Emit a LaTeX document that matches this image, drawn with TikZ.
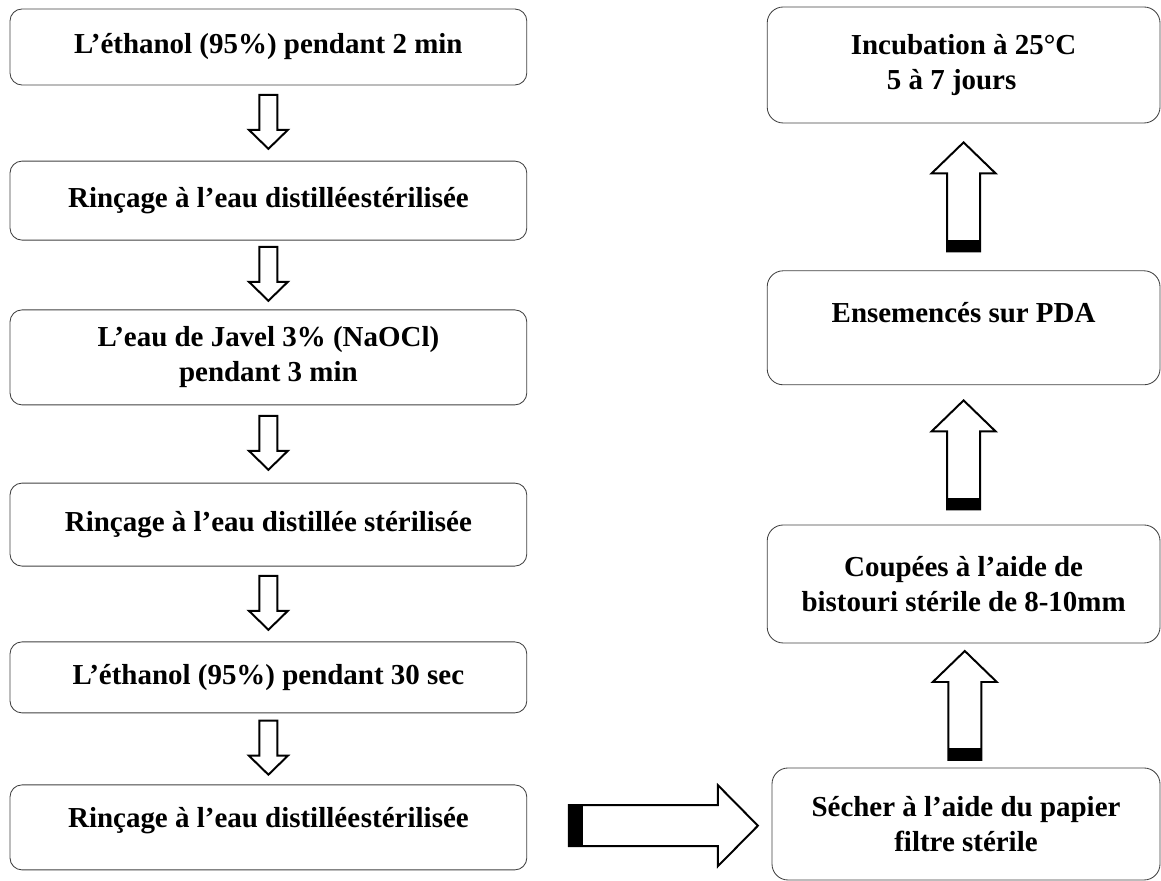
\documentclass[tikz,border=0pt]{standalone}
\usepackage{fontspec}
\setmainfont{Liberation Serif}
\usetikzlibrary{calc}

\tikzset{
  etape/.style={draw=black!75, line width=0.6pt, rounded corners=0.3cm, align=center,
    font=\fontsize{20.6}{25}\selectfont\bfseries},
  gauche/.style={etape, minimum width=12.92cm},
  droite/.style={etape, minimum width=9.82cm, rounded corners=0.4cm},
  fleche/.style={draw=black, line width=1.4pt, fill=white, line join=miter},
}

% flèche creuse vers le bas entre deux étapes
\newcommand{\flecheBas}[2]{%
  \begin{scope}[shift={($(#1.south)!0.5!(#2.north)+(0,0.03)$)}]
    \draw[fleche] (-0.225,0.675) -- (-0.225,-0.2) -- (-0.4875,-0.2) -- (0,-0.675)
      -- (0.4875,-0.2) -- (0.225,-0.2) -- (0.225,0.675) -- cycle;
  \end{scope}}

% flèche creuse vers le haut, avec la bande noire en bas
\newcommand{\flecheHaut}[2]{%
  \begin{scope}[shift={($(#1.north)!0.5!(#2.south)$)}]
    \draw[fleche] (-0.4125,-1.3625) -- (-0.4125,0.5875) -- (-0.8,0.5875) -- (0,1.3625)
      -- (0.8,0.5875) -- (0.4125,0.5875) -- (0.4125,-1.3625) -- cycle;
    \fill (-0.4125,-1.3625) rectangle (0.4125,-1.0725);
  \end{scope}}

\begin{document}
\begin{tikzpicture}
    \useasboundingbox (0,0) rectangle (29.025,22.025);

    % 1. Colonne de gauche : désinfection
    \node[gauche, minimum height=1.9cm] (L1) at (6.71,20.85) {L’éthanol (95\%) pendant 2 min};
    \node[gauche, minimum height=1.975cm] (L2) at (6.71,17.01) {Rinçage à l’eau distillée\hspace{0.03em}stérilisée};
    \node[gauche, minimum height=2.375cm] (L3) at (6.71,13.09) {L’eau de Javel 3\% (NaOCl)\\ pendant 3 min};
    \node[gauche, minimum height=2.075cm] (L4) at (6.71,8.91) {Rinçage à l’eau distillée stérilisée};
    \node[gauche, minimum height=1.775cm] (L5) at (6.71,5.09) {L’éthanol (95\%) pendant 30 sec};
    \node[gauche, minimum height=2.125cm, text depth=0.52cm] (L6) at (6.71,1.34) {Rinçage à l’eau distillée\hspace{0.03em}stérilisée};

    % 2. Colonne de droite : mise en culture
    \node[droite, minimum height=2.9cm] (R1) at (24.09,20.4) {Incubation à 25°C\\ 5 à 7 jours\hspace*{0.6cm}};
    \node[droite, minimum height=2.85cm, text height=0.5cm, text depth=0.75cm] (R2) at (24.09,13.83) {Ensemencés sur PDA};
    \node[droite, minimum height=2.95cm] (R3) at (24.09,7.425) {Coupées à l’aide de\\ bistouri stérile de 8-10mm};
    \node[droite, minimum width=9.7cm, minimum height=2.8cm] (R4) at (24.15,1.425) {Sécher à l’aide du papier\\ filtre stérile};

    % 3. Flèches
    \flecheBas{L1}{L2}
    \flecheBas{L2}{L3}
    \flecheBas{L3}{L4}
    \flecheBas{L4}{L5}
    \flecheBas{L5}{L6}

    \flecheHaut{R4}{R3}
    \flecheHaut{R3}{R2}
    \flecheHaut{R2}{R1}

    % flèche horizontale vers la droite
    \begin{scope}[shift={($(L6.east)!0.5!(R4.west)$)}]
        \draw[fleche] (-2.0125,-0.5125) -- (1.7125,-0.5125) -- (1.7125,-1.0125) -- (2.7125,0)
            -- (1.7125,1.0125) -- (1.7125,0.5125) -- (-2.0125,0.5125) -- cycle;
        \fill (-2.0125,-0.5125) rectangle (-1.6625,0.5125);
    \end{scope}

\end{tikzpicture}
\end{document}
